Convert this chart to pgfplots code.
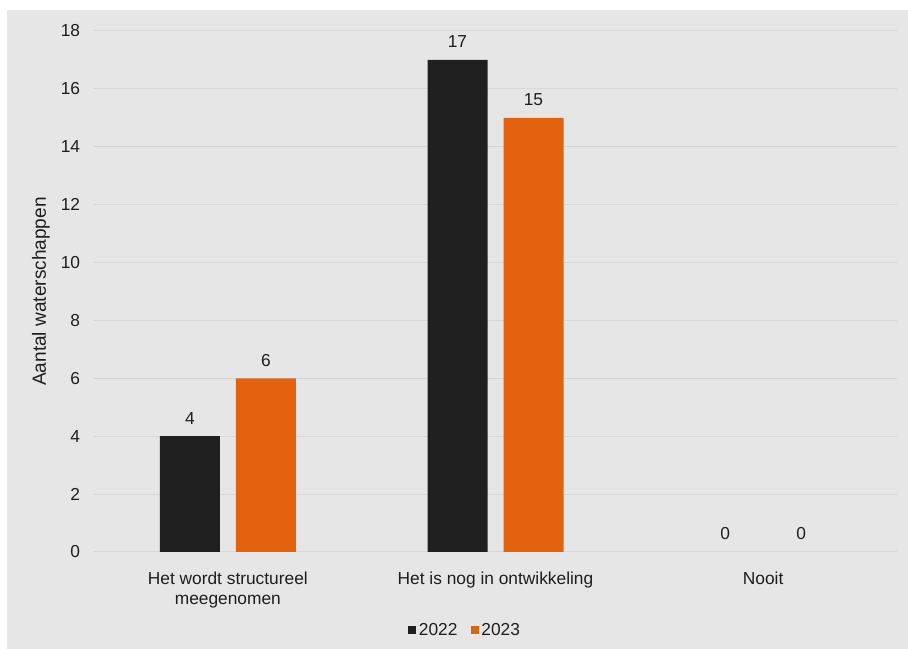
\documentclass[border=0pt]{standalone}
\usepackage{pgfplots}
\pgfplotsset{compat=1.18}
\usepackage{fontspec}
\setmainfont{Liberation Sans}
\definecolor{panel}{HTML}{E6E6E6}
\definecolor{gridc}{HTML}{D6D6D6}
\definecolor{barblack}{HTML}{1F1F1F}
\definecolor{barorange}{HTML}{E3620F}
\definecolor{txt}{HTML}{1E1E1E}
\begin{document}
\begin{tikzpicture}[font=\fontsize{13}{15}\selectfont, text=txt]
\useasboundingbox (0,0) rectangle (681pt,486.75pt);
\fill[white] (0,0) rectangle (681pt,486.75pt);
\fill[panel] (5.25pt,0) rectangle (681pt,479.25pt);
\begin{axis}[
  at={(70.5pt,72.75pt)}, anchor=south west,
  width=602.25pt, height=390.75pt, scale only axis,
  ybar, bar width=45pt,
  xmin=-0.5, xmax=2.5, ymin=0, ymax=18,
  xtick={0,1,2},
  xticklabels={{Het wordt structureel\\meegenomen},{Het is nog in ontwikkeling},{Nooit}},
  xticklabel style={align=center, yshift=-6.9pt, font=\fontsize{13}{15}\selectfont},
  ytick={0,2,...,18},
  yticklabel style={xshift=-6.9pt},
  ymajorgrids, grid style={gridc, line width=0.75pt},
  axis line style={draw=none}, tick style={draw=none},
  /pgf/number format/assume math mode=true,
  ylabel={Aantal waterschappen},
  ylabel style={at={(axis description cs:-0.066,0.5)}, anchor=center,
    font=\fontsize{14.3}{16}\selectfont},
  nodes near coords,
  nodes near coords style={anchor=center, yshift=13.5pt, text=txt},
  clip=false,
  legend style={at={(axis description cs:0.4626,-0.1497)}, anchor=center,
    draw=none, fill=none, legend columns=2,
    /tikz/every even column/.append style={column sep=8pt}},
]
% bars with a height
\addplot[fill=barblack, draw=none, bar shift=-28.5pt,
  legend image code/.code={\fill[barblack] (0pt,-3pt) rectangle (6pt,3pt);}]
  coordinates {(0,4) (1,17)};
\addplot[fill=barorange, draw=none, bar shift=28.5pt,
  legend image code/.code={\fill[barorange] (0pt,-3pt) rectangle (6pt,3pt);}]
  coordinates {(0,6) (1,15)};
% zero values: only the label is shown
\addplot[fill=none, draw=none, bar shift=-28.5pt, forget plot]
  coordinates {(2,0)};
\addplot[fill=none, draw=none, bar shift=28.5pt, forget plot]
  coordinates {(2,0)};
\legend{2022,2023}
\end{axis}
\end{tikzpicture}
\end{document}
